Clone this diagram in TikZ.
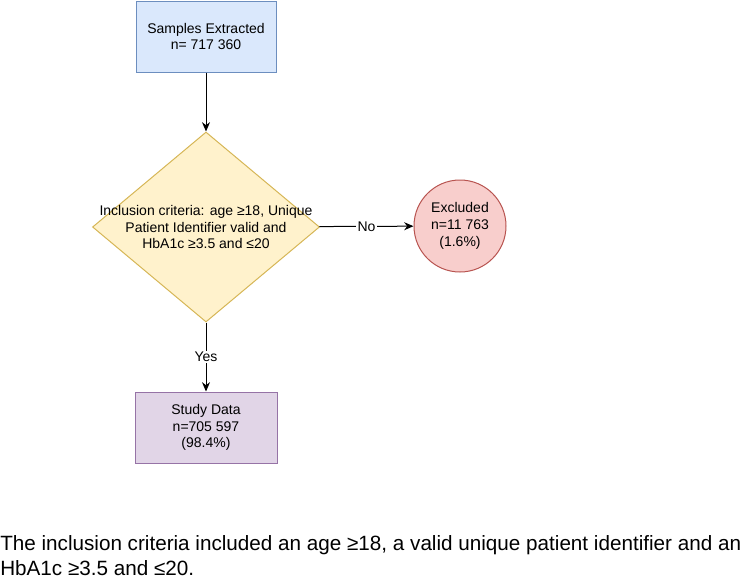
\documentclass[tikz,border=0pt]{standalone}
\usepackage{fontspec}
\setmainfont{Liberation Sans}
\usetikzlibrary{shapes.geometric,arrows.meta}
\begin{document}
\begin{tikzpicture}[x=0.75pt,y=-0.75pt,
  every node/.style={font=\fontsize{10.5pt}{12.5pt}\selectfont, align=center},
  box/.style={draw, line width=0.75pt, inner sep=0pt},
  conn/.style={line width=0.75pt, -{Stealth[length=7pt,width=6pt]}},
  lbl/.style={fill=white, inner sep=1pt},
  captxt/.style={anchor=base west, inner sep=0pt, font=\fontsize{15.5pt}{18.75pt}\selectfont}]
\definecolor{bfill}{HTML}{DAE8FC}\definecolor{bdraw}{HTML}{6C8EBF}
\definecolor{yfill}{HTML}{FFF2CC}\definecolor{ydraw}{HTML}{D6B656}
\definecolor{rfill}{HTML}{F8CECC}\definecolor{rdraw}{HTML}{B85450}
\definecolor{pfill}{HTML}{E1D5E7}\definecolor{pdraw}{HTML}{9673A6}
\useasboundingbox (0,0) rectangle (750,578);
\node[box, fill=bfill, draw=bdraw, minimum width=105pt, minimum height=53.25pt] (top) at (206,36.5) {Samples Extracted\\n= 717 360};
\node[box, shape=diamond, fill=yfill, draw=ydraw, minimum width=170.25pt, minimum height=142.5pt] (dia) at (206,227) {};
\node (diatext) at (206,227) {Inclusion criteria: age ≥18, Unique\\Patient Identifier valid and\\HbA1c ≥3.5 and ≤20};
\node[box, circle, fill=rfill, draw=rdraw, minimum size=69pt] (exc) at (460,226) {Excluded\\n=11 763\\(1.6\%)};
\node[box, fill=pfill, draw=pdraw, minimum width=106.5pt, minimum height=53.25pt] (study) at (206,427.5) {Study Data\\n=705 597\\(98.4\%)};
\draw[conn] (top) -- (dia);
\draw[conn] (dia) -- node[lbl] {No} (exc);
\draw[conn] (dia) -- node[lbl] {Yes} (study);
\node[captxt] (cap1) at (0,550) {The inclusion criteria included an age ≥18, a valid unique patient identifier and an};
\node[captxt] (cap2) at (0,575) {HbA1c ≥3.5 and ≤20.};
\end{tikzpicture}
\end{document}
